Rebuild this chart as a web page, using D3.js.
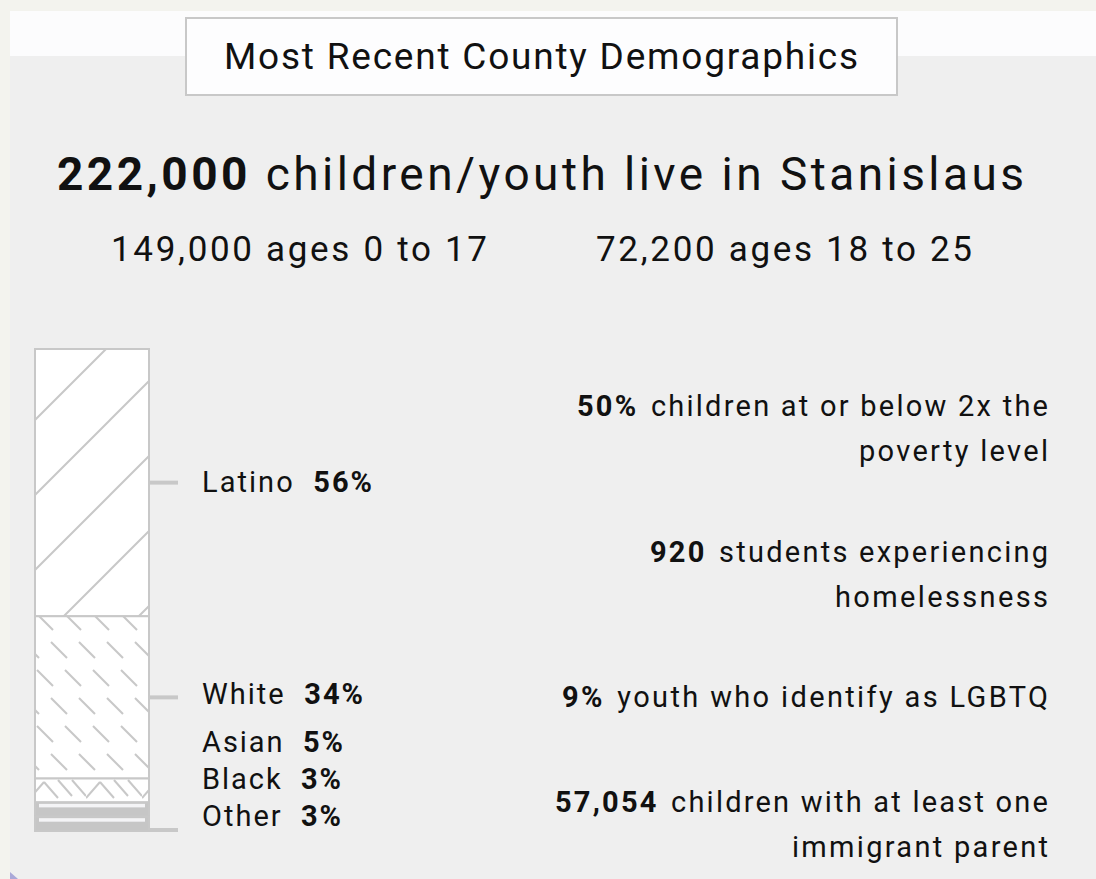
<!DOCTYPE html>
<html><head><meta charset="utf-8">
<script src="https://cdn.jsdelivr.net/npm/d3@7"></script>
<style>html,body{margin:0;padding:0;background:#f3f3ee;}svg{display:block;font-family:Roboto,"Noto Sans",sans-serif;}</style>
</head><body>
<script>
const titleText = "Most Recent County Demographics";
const totalValue = "222,000";
const totalText = " children/youth live in Stanislaus";
const ageGroups = ["149,000 ages 0 to 17", "72,200 ages 18 to 25"];
const categories = ["Latino", "White", "Asian", "Black", "Other"];
const shares = [56, 34, 5, 3, 3];
const statValues = ["50%", "920", "9%", "57,054"];
const statLines = [
  ["children at or below 2x the", "poverty level"],
  ["students experiencing", "homelessness"],
  ["youth who identify as LGBTQ"],
  ["children with at least one", "immigrant parent"]
];

const W = 1096, H = 879;
const svg = d3.select("body").append("svg").attr("width", W).attr("height", H);
const GRAY = "#c8c8c8", INK = "#111";

// fit letter-spacing so a text spans a target width (layout helper)
function fit(sel, target) {
  const node = sel.node();
  sel.attr("letter-spacing", 0);
  const nat = node.getComputedTextLength();
  const n = node.textContent.length;
  const ls = Math.max(0, (target - nat) / Math.max(1, n - 1));
  sel.attr("letter-spacing", ls);
  return ls;
}

// backgrounds
svg.append("rect").attr("width", W).attr("height", H).attr("fill", "#f3f3ee");
svg.append("rect").attr("x", 10).attr("y", 11).attr("width", W - 10).attr("height", H - 11).attr("fill", "#efefef");
svg.append("rect").attr("x", 10).attr("y", 11).attr("width", W - 10).attr("height", 45).attr("fill", "#fcfcfd");
svg.append("path").attr("d", "M10,872 L18,879 L10,879 Z").attr("fill", "#aaa8d8");

// title box
svg.append("rect").attr("x", 186).attr("y", 18).attr("width", 711).attr("height", 77)
  .attr("fill", "#fdfdfe").attr("stroke", GRAY).attr("stroke-width", 2);
const tt = svg.append("text").attr("x", 224).attr("y", 69)
  .attr("font-size", 37).attr("fill", INK).text(titleText);
fit(tt, 634);

// headline
const hl = svg.append("text").attr("x", 57).attr("y", 190)
  .attr("font-size", 46).attr("fill", INK);
hl.append("tspan").attr("font-weight", 700).text(totalValue);
hl.append("tspan").text(totalText);
fit(hl, 967);

const ageStart = [111, 596];
svg.selectAll("text.age").data(ageGroups).join("text").attr("class", "age")
  .attr("x", (d, i) => ageStart[i]).attr("y", 261)
  .attr("font-size", 35).attr("fill", INK).text(d => d)
  .each(function () { fit(d3.select(this), 376); });

// patterns
const defs = svg.append("defs");
const p1 = defs.append("pattern").attr("id", "pLatino").attr("patternUnits", "userSpaceOnUse")
  .attr("width", 75).attr("height", 75).attr("x", 35).attr("y", 345);
p1.append("rect").attr("width", 75).attr("height", 75).attr("fill", "#fff");
p1.append("path").attr("d", "M-5,80 L80,-5 M-80,80 L80,-80 M-5,155 L155,-5").attr("stroke", GRAY).attr("stroke-width", 2);
const p2 = defs.append("pattern").attr("id", "pWhite").attr("patternUnits", "userSpaceOnUse")
  .attr("width", 56).attr("height", 56).attr("x", 35).attr("y", 612);
p2.append("rect").attr("width", 56).attr("height", 56).attr("fill", "#fff");
p2.append("path").attr("d", "M2,2 L18,18 M30,2 L46,18 M16,30 L32,46 M44,30 L60,46 M-12,30 L4,46").attr("stroke", GRAY).attr("stroke-width", 2);
const p3 = defs.append("pattern").attr("id", "pAsian").attr("patternUnits", "userSpaceOnUse")
  .attr("width", 56).attr("height", 24).attr("x", 30).attr("y", 776);
p3.append("rect").attr("width", 56).attr("height", 24).attr("fill", "#fff");
p3.append("path").attr("d", "M0,22 L14,6 M28,4 L42,20 M42,4 L56,20 M14,6 L28,22").attr("stroke", GRAY).attr("stroke-width", 2).attr("fill", "none");

const patternFor = {Latino: "url(#pLatino)", White: "url(#pWhite)", Asian: "url(#pAsian)", Black: "#c6c6c6", Other: "#c6c6c6"};

// stacked bar
const total = d3.sum(shares);
const y = d3.scaleLinear().domain([0, total]).range([349, 831]);
const stack = [];
let acc = 0;
categories.forEach((c, i) => { stack.push({cat: c, v: shares[i], y0: acc, y1: acc + shares[i]}); acc += shares[i]; });
const bx = 35, bw = 114;
svg.selectAll("rect.seg").data(stack).join("rect").attr("class", "seg")
  .attr("x", bx).attr("y", d => y(d.y0)).attr("width", bw).attr("height", d => y(d.y1) - y(d.y0))
  .attr("fill", d => patternFor[d.cat]).attr("stroke", GRAY).attr("stroke-width", 2);
svg.selectAll("rect.strip").data(stack.filter(d => d.cat === "Black" || d.cat === "Other")).join("rect").attr("class", "strip")
  .attr("x", bx + 4).attr("y", d => y(d.y0) + 1.5).attr("width", bw - 8).attr("height", 3.5).attr("fill", "#f4f4f6");

// leader lines
const leaderY = {Latino: d => (y(d.y0) + y(d.y1)) / 2, White: d => (y(d.y0) + y(d.y1)) / 2, Other: d => y(d.y1) - 1};
svg.selectAll("line.lead").data(stack.filter(d => leaderY[d.cat])).join("line").attr("class", "lead")
  .attr("x1", bx + bw).attr("x2", 178).attr("y1", d => leaderY[d.cat](d)).attr("y2", d => leaderY[d.cat](d))
  .attr("stroke", GRAY).attr("stroke-width", 4);

// labels
const labelY = {Latino: 492, White: 704, Asian: 752, Black: 789, Other: 826};
const labelW = {Latino: 170, White: 161, Asian: 141, Black: 139, Other: 139};
const lab = svg.selectAll("text.lab").data(stack).join("text").attr("class", "lab")
  .attr("x", 202).attr("y", d => labelY[d.cat]).attr("font-size", 29).attr("fill", INK)
  .style("white-space", "pre");
lab.append("tspan").text(d => d.cat + "  ");
lab.append("tspan").attr("font-weight", 700).text(d => d.v + "%");
lab.each(function (d) { fit(d3.select(this), labelW[d.cat]); });

// stats
const statY = [416, 562, 707, 812];
const statW = [[471, 189], [398, 213], [486], [493, 256]];
statValues.forEach((v, i) => {
  const t = svg.append("text").attr("y", statY[i]).attr("text-anchor", "end")
    .attr("font-size", 29).attr("fill", INK);
  t.append("tspan").attr("font-weight", 700).text(v);
  t.append("tspan").attr("dx", 3).text(" " + statLines[i][0]);
  const ls = fit(t, statW[i][0] - 3);
  t.attr("x", 1048 + ls);
  if (statLines[i][1]) {
    const t2 = svg.append("text").attr("y", statY[i] + 45).attr("text-anchor", "end")
      .attr("font-size", 29).attr("fill", INK).text(statLines[i][1]);
    const ls2 = fit(t2, statW[i][1]);
    t2.attr("x", 1048 + ls2);
  }
});
</script>
</body></html>
